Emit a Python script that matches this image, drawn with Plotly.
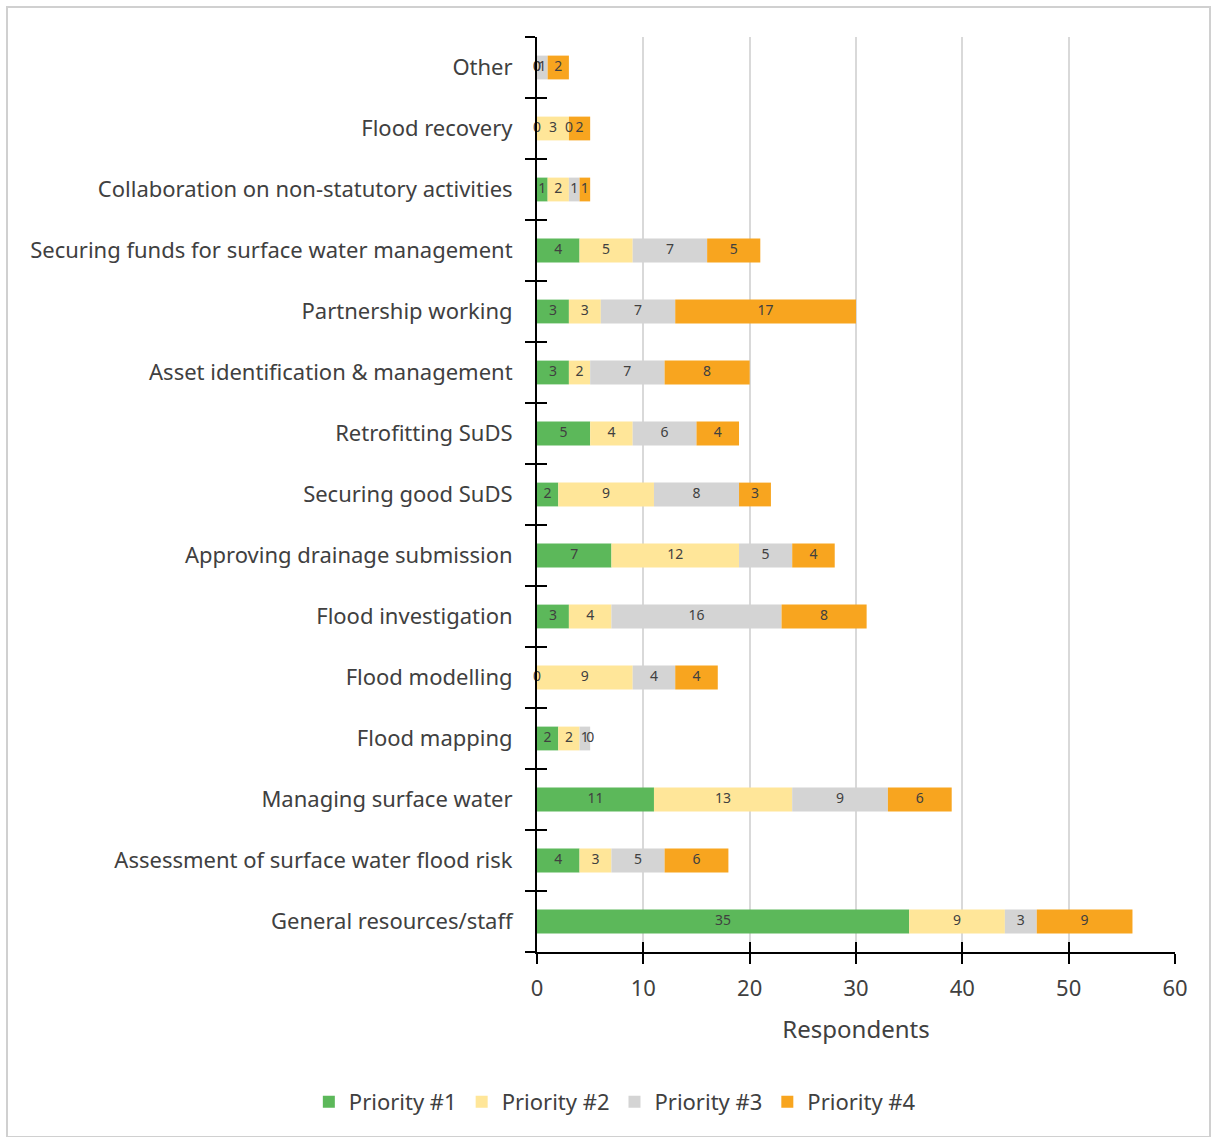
import plotly.graph_objects as go

# Issues, listed bottom to top as plotted on the category axis
issues = [
    "General resources/staff",
    "Assessment of surface water flood risk",
    "Managing surface water",
    "Flood mapping",
    "Flood modelling",
    "Flood investigation",
    "Approving drainage submission",
    "Securing good SuDS",
    "Retrofitting SuDS",
    "Asset identification & management",
    "Partnership working",
    "Securing funds for surface water management",
    "Collaboration on non-statutory activities",
    "Flood recovery",
    "Other",
]

priority_1 = [35, 4, 11, 2, 0, 3, 7, 2, 5, 3, 3, 4, 1, 0, 0]
priority_2 = [9, 3, 13, 2, 9, 4, 12, 9, 4, 2, 3, 5, 2, 3, 0]
priority_3 = [3, 5, 9, 1, 4, 16, 5, 8, 6, 7, 7, 7, 1, 0, 1]
priority_4 = [9, 6, 6, 0, 4, 8, 4, 3, 4, 8, 17, 5, 1, 2, 2]

series_names = ["Priority #1", "Priority #2", "Priority #3", "Priority #4"]
series_values = [priority_1, priority_2, priority_3, priority_4]
series_colors = ["#5CB85A", "#FFE699", "#D4D4D4", "#F8A51F"]

x_ticks = [0, 10, 20, 30, 40, 50, 60]

FONT = "Noto Sans"
TEXT_COLOR = "#404040"

fig = go.Figure()

offsets = [0] * len(issues)
for name, vals, col in zip(series_names, series_values, series_colors):
    fig.add_trace(go.Bar(
        y=issues, x=vals, base=offsets[:], orientation="h", name=name,
        marker=dict(color=col, line=dict(width=0)),
        hoverinfo="x+y+name",
    ))
    # value labels centred on each segment (zero-width segments still get a "0")
    fig.add_trace(go.Scatter(
        y=issues, x=[o + v / 2 for o, v in zip(offsets, vals)],
        mode="text", text=[str(v) for v in vals],
        textfont=dict(family=FONT, size=14, color=TEXT_COLOR),
        showlegend=False, hoverinfo="skip", cliponaxis=False,
    ))
    offsets = [o + v for o, v in zip(offsets, vals)]

axis_common = dict(showline=True, linecolor="black", linewidth=2,
                   ticklen=10, tickwidth=2, tickcolor="black")
y_range = [-0.5, len(issues) - 0.5]

fig.update_layout(
    width=1212, height=1137,
    paper_bgcolor="white", plot_bgcolor="white",
    margin=dict(l=537, r=37, t=37, b=185),
    barmode="overlay", bargap=0.61,
    font=dict(family=FONT, color=TEXT_COLOR),
    xaxis=dict(range=[0, 60], tickvals=x_ticks, ticks="outside",
               showgrid=True, gridcolor="#D9D9D9", gridwidth=2, zeroline=False,
               tickfont=dict(size=22, color=TEXT_COLOR), ticklabelstandoff=6,
               title=dict(text="Respondents", font=dict(size=24, color=TEXT_COLOR),
                          standoff=20),
               **axis_common),
    xaxis2=dict(range=[0, 60], tickvals=x_ticks, ticks="inside", overlaying="x",
                side="bottom", showticklabels=False, showgrid=False,
                zeroline=False, anchor="y", **axis_common),
    yaxis=dict(categoryorder="array", categoryarray=issues, range=y_range,
               ticks="outside", tickson="boundaries", showgrid=False,
               zeroline=False, tickfont=dict(size=22, color=TEXT_COLOR),
               ticklabelstandoff=18, **axis_common),
    yaxis2=dict(categoryorder="array", categoryarray=issues, range=y_range,
                ticks="inside", tickson="boundaries", overlaying="y",
                side="left", showticklabels=False, showgrid=False,
                zeroline=False, anchor="x", **axis_common),
    legend=dict(orientation="h", x=0.122, xanchor="center", y=-0.164,
                yanchor="middle", font=dict(size=22, color=TEXT_COLOR),
                itemwidth=30, traceorder="normal", tracegroupgap=0),
    showlegend=True,
)

# invisible trace that puts the second axes into use for the crossing tick marks
fig.add_trace(go.Scatter(x=[None], y=[issues[0]], xaxis="x2", yaxis="y2",
                         showlegend=False, hoverinfo="skip"))

# light outer frame around the chart area
fig.add_shape(type="rect", xref="paper", yref="paper",
              x0=-530 / 638, x1=1210 / 638 - 537 / 638,
              y0=(952 - 1137) / 915, y1=1 + 30 / 915,
              line=dict(color="#D0D0D0", width=2), layer="below")

fig.write_html("out.html")
